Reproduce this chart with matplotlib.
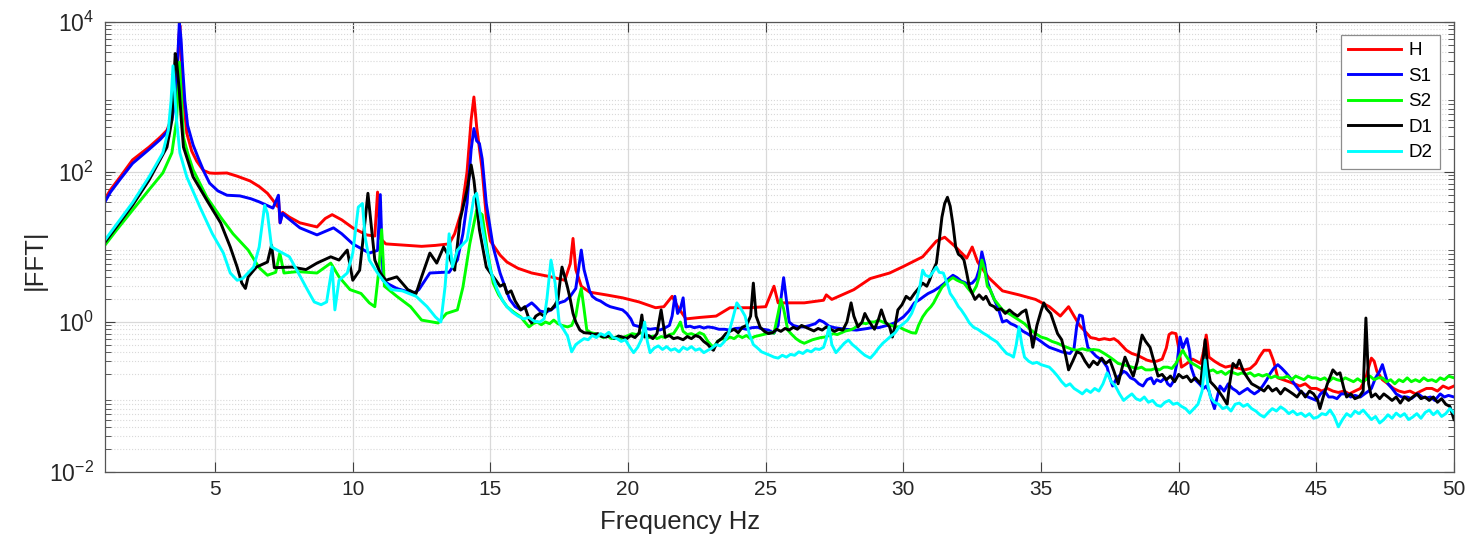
import math
import matplotlib
matplotlib.use("Agg")
import matplotlib.pyplot as plt
from matplotlib.ticker import LogLocator, FixedLocator, NullFormatter, FuncFormatter

plt.rcParams['font.family'] = ['Liberation Sans', 'DejaVu Sans']
plt.rcParams['mathtext.fontset'] = 'custom'
plt.rcParams['mathtext.rm'] = 'Liberation Sans'

# ---------------- data ----------------
h_f = [1.0, 1.2, 1.55, 2.0, 2.6, 3.0, 3.25, 3.43, 3.55, 3.62, 3.68, 3.72, 3.78, 3.86, 3.97, 4.15, 4.33, 4.57, 4.8, 5.0,
       5.43, 5.8, 6.27, 6.6, 6.9, 7.1, 7.25, 7.3, 7.36, 7.45, 7.7, 8.08, 8.7, 9.0, 9.25, 9.6, 10.0, 10.5, 10.8, 10.9,
       11.0, 11.2, 12.0, 12.5, 13.0, 13.5, 13.7, 13.95, 14.15, 14.3, 14.4, 14.5, 14.7, 14.85, 15.0, 15.35, 15.6, 16.0,
       16.5, 17.2, 17.7, 17.9, 18.0, 18.1, 18.3, 18.6, 19.2, 19.8, 20.4, 21.0, 21.3, 21.6, 21.8, 22.1, 22.6, 23.2, 23.7,
       24.4, 25.0, 25.3, 25.45, 26.0, 26.4, 27.1, 27.2, 27.4, 28.2, 28.8, 29.5, 30.0, 30.7, 31.2, 31.5, 31.9, 32.3, 32.5,
       32.7, 33.1, 33.6, 34.2, 34.8, 35.3, 35.7, 36.0, 36.2, 36.4, 36.6, 36.8, 37.0, 37.1, 37.3, 37.5, 37.65, 37.8,
       37.95, 38.1, 38.3, 38.5, 38.7, 38.85, 39.0, 39.2, 39.4, 39.55, 39.65, 39.75, 39.9, 40.0, 40.1, 40.3, 40.5, 40.65,
       40.8, 40.9, 41.0, 41.05, 41.1, 41.3, 41.5, 41.7, 41.9, 42.0, 42.2, 42.4, 42.6, 42.8, 42.95, 43.1, 43.3, 43.45,
       43.6, 43.8, 44.0, 44.2, 44.4, 44.6, 44.8, 45.0, 45.2, 45.4, 45.6, 45.8, 46.0, 46.2, 46.4, 46.6, 46.8, 46.9, 47.0,
       47.1, 47.2, 47.4, 47.6, 47.8, 48.0, 48.2, 48.4, 48.6, 48.8, 49.0, 49.2, 49.4, 49.6, 49.8, 50.0]
h_v = [44, 58, 86, 145, 215, 290, 360, 540, 900, 2000, 6000, 9000, 3000, 900, 330, 190, 140, 105, 97, 96,
       97, 88, 76, 64, 52, 42, 35, 44, 21, 29, 25, 21, 18.5, 24, 27, 23, 18, 14.5, 14, 54,
       13, 11, 10.5, 10.2, 10.5, 11, 15, 30, 100, 500, 1000, 400, 106, 25, 12, 7.8, 6.3, 5.2,
       4.5, 4.0, 3.6, 6, 13, 5, 3.0, 2.5, 2.3, 2.1, 1.85, 1.55, 1.6, 2.2, 1.6, 1.1, 1.15, 1.2, 1.55,
       1.55, 1.6, 3.0, 1.8, 1.8, 1.8, 1.95, 2.3, 2.0, 2.7, 3.8, 4.5, 5.5, 7.4, 12, 13.5, 10, 7.1, 10,
       6.3, 3.9, 2.6, 2.3, 2.0, 1.6, 1.2, 1.6, 1.2, 0.9, 0.75, 0.62, 0.6, 0.58, 0.6, 0.58, 0.6, 0.55,
       0.48, 0.42, 0.38, 0.36, 0.33, 0.31, 0.30, 0.3, 0.32, 0.45, 0.68, 0.72, 0.70, 0.45, 0.25, 0.28, 0.32, 0.3,
       0.28, 0.4, 0.67, 0.5, 0.34, 0.3, 0.27, 0.25, 0.26, 0.25, 0.24, 0.23, 0.24, 0.28, 0.35, 0.42, 0.42, 0.3,
       0.18, 0.17, 0.16, 0.15, 0.14, 0.15, 0.13, 0.13, 0.12, 0.13, 0.12, 0.115, 0.12, 0.11, 0.12, 0.13, 0.18, 0.25, 0.33,
       0.3, 0.22, 0.17, 0.15, 0.13, 0.12, 0.115, 0.12, 0.11, 0.12, 0.13, 0.13, 0.12, 0.14, 0.13, 0.14]

s1_f = [1.0, 1.2, 1.55, 2.0, 2.6, 3.0, 3.25, 3.43, 3.55, 3.63, 3.7, 3.76, 3.82, 3.9, 4.0, 4.2, 4.4, 4.6, 4.8, 5.1,
        5.43, 5.9, 6.3, 6.6, 7.1, 7.3, 7.36, 7.45, 7.6, 8.08, 8.7, 9.3, 9.6, 10.0, 10.6, 10.9, 11.0, 11.1, 11.3, 11.6,
        12.2, 12.4, 12.8, 13.3, 13.5, 13.8, 14.0, 14.15, 14.3, 14.4, 14.5, 14.6, 14.7, 14.85,
        15.1, 15.35, 15.55, 15.7, 15.9, 16.1, 16.3, 16.5, 16.65, 16.8, 17.0, 17.2, 17.35, 17.5, 17.7, 17.9, 18.1, 18.2,
        18.3, 18.4, 18.5, 18.6, 18.7, 18.85, 19.0, 19.2, 19.35, 19.5, 19.65, 19.8, 19.95, 20.1, 20.2, 20.35, 20.5,
        20.65, 20.8, 21.0, 21.15, 21.3, 21.5, 21.6, 21.7, 21.8, 21.9, 22.0, 22.1, 22.25, 22.4, 22.6, 22.75, 22.9,
        23.1, 23.3, 23.5, 23.7, 23.9, 24.1, 24.3, 24.5, 24.7, 24.9, 25.1, 25.3, 25.45, 25.55, 25.65, 25.75, 25.85,
        26.0, 26.2, 26.4, 26.6, 26.8, 26.95, 27.1, 27.3, 27.5, 27.7, 27.9, 28.1, 28.3, 28.5, 28.7, 28.9, 29.1, 29.3,
        29.5, 29.7, 29.9, 30.0, 30.2, 30.4, 30.6, 30.75, 30.9, 31.1, 31.3, 31.5, 31.65, 31.8, 31.95, 32.1, 32.2,
        32.35, 32.5, 32.65, 32.75, 32.85, 32.95, 33.05, 33.15, 33.3, 33.45, 33.6, 33.75, 33.9, 34.05, 34.2, 34.35,
        34.5, 34.7, 34.85, 35.0, 35.15, 35.3, 35.45, 35.6, 35.75, 35.9, 36.05, 36.2, 36.3, 36.4, 36.5, 36.6, 36.7,
        36.85, 37.0, 37.1, 37.25, 37.4, 37.5, 37.6, 37.75, 37.9, 38.0, 38.1, 38.25, 38.4, 38.55, 38.7, 38.85, 39.0,
        39.1, 39.2, 39.35, 39.5, 39.6, 39.7, 39.8, 39.95, 40.05, 40.15, 40.2, 40.3, 40.4, 40.45, 40.6, 40.75, 40.9,
        41.0, 41.1, 41.2, 41.3, 41.4, 41.5, 41.65, 41.8, 41.95, 42.1, 42.2, 42.35, 42.5, 42.6, 42.75, 42.9, 43.05,
        43.2, 43.3, 43.45, 43.6, 43.75, 43.9, 44.05, 44.2, 44.4, 44.55, 44.7, 44.85, 45.0, 45.15, 45.3, 45.45, 45.6,
        45.75, 45.9, 46.1, 46.25, 46.4, 46.6, 46.75, 46.9, 47.0, 47.15, 47.3, 47.4, 47.5, 47.6, 47.75, 47.9, 48.1,
        48.3, 48.45, 48.6, 48.7, 48.85, 49.0, 49.15, 49.3, 49.5, 49.65, 49.8, 50.0]
s1_v = [40, 54, 80, 130, 200, 270, 340, 500, 900, 2500, 10000, 6000, 2500, 900, 420, 230, 150, 100, 71, 56,
        49, 48, 44, 40, 33, 49, 21, 28, 25, 18, 14.5, 18, 15, 11, 8.3, 9, 50, 3.6, 3.2, 2.8,
        2.4, 2.7, 4.5, 4.6, 4.6, 6.7, 15, 38, 200, 380, 260, 240, 150, 38,
        10, 4.5, 2.8, 2.0, 1.6, 1.45, 1.6, 1.8, 1.6, 1.4, 1.35, 1.45, 1.6, 1.8, 1.9, 2.2, 2.8, 5,
        9.1, 5, 3.6, 2.6, 2.2, 2.0, 1.9, 1.7, 1.6, 1.55, 1.5, 1.45, 1.3, 1.1, 0.91, 0.88, 0.85,
        0.82, 0.8, 0.82, 0.78, 0.82, 0.9, 1.2, 2.2, 1.3, 1.5, 2.1, 0.86, 0.88, 0.84, 0.87, 0.83, 0.86,
        0.84, 0.8, 0.8, 0.78, 0.82, 0.83, 0.8, 0.84, 0.85, 0.8, 0.78, 0.71, 0.9, 2.0, 3.9, 2.0, 1.0,
        0.9, 0.86, 0.86, 0.9, 0.95, 1.06, 1.0, 0.88, 0.84, 0.82, 0.8, 0.79, 0.78, 0.8, 0.82, 0.85, 0.84, 0.88,
        0.92, 0.98, 1.1, 1.17, 1.4, 1.8, 2.0, 2.2, 2.4, 2.6, 2.9, 3.3, 3.8, 4.2, 3.9, 3.5, 3.4,
        3.2, 3.3, 3.8, 5, 8.6, 6, 3.5, 2.7, 2.0, 1.5, 1.0, 1.05, 0.95, 0.9, 0.83, 0.75,
        0.7, 0.63, 0.6, 0.55, 0.5, 0.46, 0.44, 0.42, 0.4, 0.39, 0.38, 0.45, 0.9, 1.24, 1.2, 0.7, 0.46,
        0.4, 0.35, 0.33, 0.3, 0.25, 0.18, 0.14, 0.18, 0.2, 0.22, 0.21, 0.18, 0.17, 0.15, 0.14, 0.17, 0.18,
        0.15, 0.17, 0.16, 0.18, 0.15, 0.14, 0.16, 0.3, 0.63, 0.45, 0.5, 0.6, 0.4, 0.25, 0.17, 0.15, 0.13,
        0.14, 0.12, 0.09, 0.07, 0.1, 0.14, 0.12, 0.15, 0.13, 0.12, 0.11, 0.12, 0.13, 0.12, 0.11, 0.12, 0.14,
        0.17, 0.2, 0.24, 0.27, 0.24, 0.21, 0.18, 0.15, 0.12, 0.11, 0.1, 0.095, 0.09, 0.11, 0.12, 0.1, 0.1,
        0.095, 0.11, 0.11, 0.1, 0.105, 0.1, 0.11, 0.12, 0.13, 0.18, 0.22, 0.27, 0.2, 0.15, 0.13, 0.11, 0.1,
        0.1, 0.095, 0.105, 0.11, 0.1, 0.097, 0.1, 0.09, 0.11, 0.1, 0.105, 0.1]

s2_f = [1.0, 1.43, 2.0, 2.6, 3.1, 3.43, 3.6, 3.7, 3.78, 3.85, 4.0, 4.2, 4.7, 5.2, 5.65, 6.2, 6.6, 6.9, 7.2, 7.35,
        7.5, 8.0, 8.7, 9.2, 9.5, 9.9, 10.3, 10.6, 10.8, 10.95, 11.05, 11.15, 11.6, 12.1, 12.5, 13.1, 13.4, 13.8, 14.0,
        14.25, 14.5, 14.7, 14.9,
        15.1, 15.3, 15.6, 15.85, 16.1, 16.25, 16.4, 16.55, 16.7, 16.85, 17.0, 17.15, 17.3, 17.45, 17.6, 17.8, 17.95,
        18.1, 18.2, 18.3, 18.4, 18.5, 18.65, 18.8, 18.95, 19.1, 19.25, 19.4, 19.55, 19.7, 19.85, 20.0, 20.15, 20.3,
        20.45, 20.6, 20.75, 20.9, 21.05, 21.2, 21.35, 21.5, 21.65, 21.8, 21.9, 22.0, 22.15, 22.3, 22.45, 22.6, 22.75,
        22.9, 23.0, 23.1, 23.25, 23.4, 23.55, 23.7, 23.85, 24.0, 24.15, 24.3, 24.45, 24.6, 24.75, 24.9, 25.05, 25.2,
        25.3, 25.45, 25.55, 25.65, 25.8, 25.95, 26.1, 26.25, 26.4, 26.55, 26.7, 26.85, 27.0, 27.15, 27.3, 27.45,
        27.6, 27.75, 27.9, 28.05, 28.2, 28.35, 28.5, 28.65, 28.8, 28.95, 29.1, 29.25, 29.4, 29.55, 29.7, 29.85, 30.0,
        30.15, 30.3, 30.45, 30.55, 30.7, 30.85, 31.0, 31.1, 31.25, 31.4, 31.55, 31.7, 31.8, 31.95, 32.1, 32.2, 32.35,
        32.5, 32.65, 32.75, 32.85, 32.95, 33.05, 33.15, 33.3, 33.45, 33.6, 33.75, 33.9, 34.05, 34.2, 34.4, 34.6,
        34.8, 35.0, 35.2, 35.4, 35.6, 35.8, 36.0, 36.15, 36.3, 36.5, 36.7, 36.9, 37.1, 37.3, 37.5, 37.65, 37.8, 38.0,
        38.15, 38.3, 38.5, 38.65, 38.8, 39.0, 39.15, 39.3, 39.45, 39.6, 39.75, 39.9, 40.05, 40.15, 40.25, 40.4, 40.5,
        40.65, 40.8, 40.95, 41.1, 41.25, 41.4, 41.55, 41.7, 41.85, 42.0, 42.15, 42.3, 42.45, 42.6, 42.75, 42.9, 43.05,
        43.2, 43.35, 43.5, 43.65, 43.8, 43.95, 44.1, 44.25, 44.4, 44.55, 44.7, 44.85, 45.0, 45.15, 45.3, 45.45, 45.6,
        45.75, 45.9, 46.05, 46.2, 46.35, 46.5, 46.65, 46.8, 46.95, 47.1, 47.25, 47.4, 47.55, 47.7, 47.85, 48.0, 48.15,
        48.3, 48.45, 48.6, 48.75, 48.9, 49.05, 49.2, 49.35, 49.5, 49.65, 49.8, 50.0]
s2_v = [10.6, 17, 31, 58, 97, 180, 490, 2900, 900, 290, 180, 107, 46, 25, 15, 9.1, 5.3, 4.2, 4.6, 8.3,
        4.5, 4.7, 4.5, 6.1, 4.0, 2.7, 2.4, 1.8, 1.6, 5, 17, 3, 2.2, 1.6, 1.06, 0.97, 1.3, 1.45, 2.9,
        11, 31, 27, 8.3,
        3.3, 2.3, 1.6, 1.35, 1.17, 1.0, 0.86, 0.95, 1.0, 0.92, 1.0, 0.95, 1.06, 0.95, 0.9, 0.86, 0.9,
        1.2, 2.0, 2.8, 1.5, 0.78, 0.72, 0.7, 0.66, 0.62, 0.65, 0.6, 0.63, 0.58, 0.63, 0.66, 0.7, 0.68,
        0.72, 0.66, 0.62, 0.65, 0.6, 0.64, 0.62, 0.68, 0.7, 0.85, 1.0, 0.75, 0.68, 0.7, 0.66, 0.72, 0.68,
        0.55, 0.5, 0.46, 0.55, 0.6, 0.58, 0.63, 0.6, 0.66, 0.62, 0.66, 0.6, 0.64, 0.66, 0.68, 0.7, 0.72,
        0.71, 1.3, 2.0, 1.5, 0.78, 0.68, 0.6, 0.55, 0.52, 0.55, 0.58, 0.6, 0.62, 0.63, 0.66, 0.7,
        0.68, 0.72, 0.76, 0.78, 0.82, 0.9, 0.97, 0.95, 1.0, 1.0, 1.06, 1.0, 0.95, 0.9, 0.86, 0.86, 0.8,
        0.76, 0.72, 0.71, 0.9, 1.17, 1.4, 1.6, 1.8, 2.3, 2.9, 3.3, 3.7, 3.9, 3.6, 3.4, 3.3, 2.8,
        2.4, 3.0, 4, 6.7, 5, 3.0, 2.7, 2.0, 1.7, 1.45, 1.35, 1.25, 1.15, 1.06, 0.95, 0.8,
        0.7, 0.63, 0.6, 0.55, 0.52, 0.48, 0.45, 0.43, 0.42, 0.44, 0.42, 0.43, 0.42, 0.38, 0.34, 0.31, 0.28, 0.27,
        0.26, 0.25, 0.24, 0.25, 0.23, 0.23, 0.24, 0.23, 0.25, 0.25, 0.24, 0.28, 0.36, 0.42, 0.36, 0.3, 0.28,
        0.26, 0.24, 0.23, 0.22, 0.23, 0.21, 0.22, 0.2, 0.22, 0.21, 0.2, 0.21, 0.2, 0.21, 0.19, 0.2, 0.19,
        0.2, 0.18, 0.19, 0.18, 0.18, 0.19, 0.17, 0.19, 0.18, 0.17, 0.19, 0.18, 0.18, 0.17, 0.18, 0.16, 0.18,
        0.17, 0.165, 0.18, 0.17, 0.16, 0.175, 0.16, 0.17, 0.19, 0.17, 0.18, 0.18, 0.16, 0.17, 0.15, 0.17, 0.16,
        0.18, 0.16, 0.17, 0.16, 0.18, 0.165, 0.17, 0.16, 0.18, 0.17, 0.19, 0.18]

d1_f = [1.0, 2.0, 2.6, 3.25, 3.43, 3.5, 3.55, 3.6, 3.7, 3.78, 3.85, 4.2, 4.7, 5.2, 5.55, 5.8, 5.97, 6.1, 6.2, 6.5,
        6.9, 7.05, 7.15, 7.8, 8.3, 8.7, 9.2, 9.5, 9.8, 10.0, 10.25, 10.45, 10.55, 10.65, 10.8, 11.0, 11.2, 11.6, 12.0,
        12.3, 12.5, 12.8, 13.05, 13.3, 13.5, 13.7, 13.9, 14.15, 14.3, 14.4, 14.6, 14.85,
        15.0, 15.2, 15.35, 15.5, 15.6, 15.75, 15.9, 16.1, 16.25, 16.4, 16.5, 16.65, 16.8, 16.95, 17.1, 17.2, 17.35,
        17.45, 17.55, 17.6, 17.7, 17.8, 17.9, 18.0, 18.1, 18.25, 18.4, 18.6, 18.75, 18.9, 19.05, 19.2, 19.35, 19.5,
        19.65, 19.8, 19.95, 20.1, 20.25, 20.4, 20.5, 20.6, 20.75, 20.9, 21.05, 21.2, 21.35, 21.5, 21.65, 21.8, 22.0,
        22.15, 22.3, 22.45, 22.6, 22.75, 22.9, 23.0, 23.1, 23.25, 23.4, 23.55, 23.7, 23.85, 24.0, 24.15, 24.3, 24.45,
        24.55, 24.65, 24.8, 24.95, 25.1, 25.25, 25.4, 25.55, 25.7, 25.85, 26.0, 26.15, 26.3, 26.45, 26.6, 26.75, 26.9,
        27.05, 27.2, 27.35, 27.5, 27.65, 27.8, 27.95, 28.1, 28.2, 28.35, 28.5, 28.6, 28.7, 28.85, 28.95, 29.1, 29.2,
        29.35, 29.5, 29.6, 29.7, 29.8, 29.95, 30.1, 30.25, 30.4, 30.55, 30.7, 30.85, 30.95, 31.05, 31.2, 31.3, 31.4,
        31.5, 31.6, 31.7, 31.8, 31.9, 32.0, 32.1, 32.2, 32.3, 32.4, 32.5, 32.6, 32.75, 32.9, 33.0, 33.15, 33.3, 33.4,
        33.55, 33.7, 33.85, 34.0, 34.15, 34.3, 34.45, 34.6, 34.7, 34.85, 35.0, 35.1, 35.2, 35.35, 35.5, 35.6, 35.75,
        35.9, 36.0, 36.15, 36.3, 36.45, 36.6, 36.75, 36.9, 37.05, 37.2, 37.35, 37.5, 37.65, 37.8, 37.95, 38.05, 38.2,
        38.35, 38.5, 38.6, 38.67, 38.8, 38.96, 39.1, 39.25, 39.4, 39.55, 39.7, 39.85, 40.0, 40.15, 40.3, 40.45, 40.6,
        40.8, 40.96, 41.05, 41.15, 41.3, 41.45, 41.6, 41.76, 41.85, 41.97, 42.1, 42.2, 42.35, 42.5, 42.65, 42.8,
        42.95, 43.1, 43.25, 43.4, 43.55, 43.7, 43.85, 44.0, 44.15, 44.3, 44.45, 44.6, 44.75, 44.9, 45.05, 45.13,
        45.25, 45.4, 45.6, 45.75, 45.86, 46.0, 46.1, 46.25, 46.4, 46.55, 46.7, 46.8, 46.9, 47.0, 47.15, 47.3, 47.45,
        47.6, 47.75, 47.9, 48.05, 48.2, 48.35, 48.5, 48.65, 48.8, 48.95, 49.1, 49.25, 49.4, 49.55, 49.7, 49.85, 50.0]
d1_v = [11.6, 36, 78, 215, 490, 1500, 3800, 3000, 1200, 450, 215, 86, 42, 21, 10, 5.4, 3.3, 2.8, 4, 5.4,
        6.3, 10.6, 5.3, 5.4, 5.0, 6.1, 7.4, 6.7, 9.1, 3.6, 4.9, 23, 52, 23, 6.7, 4.5, 3.6, 4.0, 2.7,
        2.4, 4.0, 8.3, 6.1, 10, 7.4, 4.9, 23, 58, 124, 78, 17, 5.4,
        4.5, 3.6, 3.0, 3.2, 2.4, 2.6, 1.9, 1.45, 1.6, 1.1, 0.97, 1.2, 1.3, 1.2, 1.5, 1.45, 1.7,
        2.0, 4.0, 5.4, 4.0, 2.9, 2.0, 1.3, 1.0, 0.78, 0.72, 0.71, 0.68, 0.7, 0.64, 0.63, 0.66, 0.6,
        0.65, 0.63, 0.6, 0.66, 0.62, 0.71, 1.24, 0.63, 0.66, 0.6, 0.7, 1.45, 0.63, 0.66, 0.6, 0.62, 0.58,
        0.64, 0.6, 0.66, 0.63, 0.55, 0.5, 0.45, 0.42, 0.55, 0.6, 0.7, 0.75, 0.8, 0.72, 0.85, 0.9, 1.2,
        3.3, 1.2, 0.85, 0.75, 0.7, 0.72, 0.8, 0.75, 0.82, 0.78, 0.85, 0.8, 0.9, 0.85, 0.8, 0.76, 0.82,
        0.78, 0.86, 0.8, 0.75, 0.8, 0.78, 1.0, 1.8, 1.2, 0.86, 1.0, 1.3, 1.1, 0.9, 0.8, 1.1, 1.45,
        1.0, 0.86, 0.63, 0.9, 1.45, 1.7, 2.2, 2.0, 2.4, 2.8, 3.3, 3.0, 3.6, 4.6, 6.1, 12, 25,
        38, 46, 35, 20, 10, 8.0, 7.5, 6.7, 4.5, 2.9, 2.4, 2.0, 2.3, 2.0, 2.2, 1.7, 1.6, 1.45,
        1.5, 1.3, 1.45, 1.3, 1.2, 1.35, 1.45, 0.8, 0.46, 0.9, 1.4, 1.8, 1.5, 1.3, 0.9, 0.7, 0.58,
        0.35, 0.23, 0.3, 0.4, 0.38, 0.3, 0.25, 0.3, 0.27, 0.33, 0.28, 0.31, 0.22, 0.15, 0.25, 0.34, 0.25,
        0.19, 0.3, 0.5, 0.67, 0.55, 0.46, 0.3, 0.19, 0.2, 0.17, 0.19, 0.16, 0.2, 0.18, 0.19, 0.16, 0.18,
        0.15, 0.58, 0.25, 0.16, 0.14, 0.12, 0.1, 0.08, 0.15, 0.28, 0.25, 0.31, 0.22, 0.18, 0.15, 0.14,
        0.13, 0.12, 0.14, 0.12, 0.13, 0.11, 0.13, 0.12, 0.11, 0.1, 0.12, 0.1, 0.12, 0.11, 0.09, 0.07,
        0.1, 0.15, 0.23, 0.2, 0.21, 0.13, 0.1, 0.11, 0.095, 0.1, 0.12, 1.13, 0.15, 0.1, 0.11, 0.095, 0.11,
        0.1, 0.09, 0.1, 0.083, 0.1, 0.09, 0.1, 0.11, 0.095, 0.1, 0.09, 0.1, 0.085, 0.095, 0.08, 0.075, 0.05]

d2_f = [1.0, 2.0, 2.6, 3.1, 3.3, 3.4, 3.47, 3.55, 3.6, 3.72, 3.97, 4.45, 4.9, 5.3, 5.55, 5.8, 6.0, 6.4, 6.6, 6.8,
        6.9, 7.05, 7.45, 7.7, 8.1, 8.35, 8.6, 8.85, 9.05, 9.25, 9.35, 9.5, 9.8, 10.0, 10.2, 10.35, 10.45, 10.6, 10.9,
        11.1, 11.4, 11.8, 12.3, 12.7, 13.0, 13.2, 13.35, 13.5, 13.62, 13.8, 14.15, 14.4, 14.5, 14.7,
        15.0, 15.25, 15.45, 15.6, 15.8, 16.0, 16.2, 16.4, 16.6, 16.8, 16.95, 17.05, 17.2, 17.35, 17.5, 17.65, 17.8,
        17.95, 18.1, 18.25, 18.4, 18.55, 18.7, 18.85, 19.0, 19.15, 19.3, 19.45, 19.6, 19.75, 19.9, 20.05, 20.2, 20.35,
        20.5, 20.6, 20.7, 20.8, 20.95, 21.1, 21.25, 21.4, 21.55, 21.7, 21.85, 22.0, 22.15, 22.3, 22.45, 22.6, 22.75,
        22.9, 23.05, 23.2, 23.35, 23.5, 23.65, 23.8, 23.95, 24.1, 24.25, 24.4, 24.55, 24.7, 24.85, 25.0, 25.15, 25.3,
        25.45, 25.6, 25.75, 25.9, 26.05, 26.2, 26.35, 26.5, 26.65, 26.8, 26.95, 27.1, 27.2, 27.3, 27.4, 27.55, 27.7,
        27.85, 28.0, 28.15, 28.3, 28.45, 28.6, 28.8, 28.95, 29.1, 29.25, 29.4, 29.55, 29.7, 29.85, 30.0, 30.15, 30.3,
        30.45, 30.6, 30.7, 30.8, 30.95, 31.1, 31.2, 31.3, 31.45, 31.6, 31.7, 31.85, 32.0, 32.1, 32.25, 32.4, 32.55,
        32.7, 32.9, 33.05, 33.2, 33.4, 33.55, 33.75, 33.9, 34.0, 34.1, 34.2, 34.3, 34.4, 34.55, 34.7, 34.85, 35.0,
        35.15, 35.3, 35.45, 35.6, 35.75, 35.9, 36.05, 36.2, 36.35, 36.5, 36.65, 36.8, 36.95, 37.1, 37.25, 37.4,
        37.55, 37.7, 37.85, 38.0, 38.15, 38.3, 38.45, 38.6, 38.75, 38.9, 39.05, 39.2, 39.35, 39.5, 39.65, 39.8, 39.95,
        40.1, 40.25, 40.4, 40.55, 40.7, 40.85, 40.96, 41.05, 41.15, 41.3, 41.45, 41.6, 41.75, 41.9, 42.05, 42.2,
        42.35, 42.5, 42.65, 42.8, 42.95, 43.1, 43.25, 43.4, 43.55, 43.7, 43.85, 44.0, 44.15, 44.3, 44.45, 44.6,
        44.75, 44.9, 45.05, 45.2, 45.35, 45.5, 45.65, 45.8, 45.95, 46.1, 46.25, 46.4, 46.55, 46.7, 46.85, 47.0,
        47.15, 47.3, 47.45, 47.6, 47.75, 47.9, 48.05, 48.2, 48.35, 48.5, 48.65, 48.8, 48.95, 49.1, 49.25, 49.4,
        49.55, 49.7, 49.85, 50.0]
d2_v = [12.4, 39, 86, 180, 360, 900, 2600, 900, 490, 180, 86, 34, 15, 8.3, 4.5, 3.6, 3.8, 5.4, 10, 36,
        28, 10, 8.3, 7.4, 4.0, 2.7, 1.85, 1.7, 1.85, 5.4, 1.45, 3.6, 4.5, 8.3, 34, 38, 13.5, 6.7, 4.5,
        3.6, 2.7, 2.6, 2.2, 1.6, 1.17, 1.0, 2.9, 15, 5.4, 9.1, 12.4, 46, 52, 18.5,
        4.9, 2.7, 1.9, 1.6, 1.35, 1.2, 1.1, 1.15, 1.02, 1.0, 1.1, 2.0, 6.7, 3.3, 0.97, 0.8, 0.65,
        0.4, 0.5, 0.55, 0.6, 0.58, 0.66, 0.62, 0.7, 0.66, 0.73, 0.62, 0.6, 0.55, 0.58, 0.47, 0.39, 0.46,
        0.6, 1.0, 0.55, 0.39, 0.45, 0.48, 0.43, 0.47, 0.42, 0.44, 0.4, 0.46, 0.43, 0.47, 0.42, 0.44, 0.39,
        0.42, 0.45, 0.5, 0.48, 0.55, 0.7, 1.1, 1.8, 1.5, 1.2, 0.7, 0.5, 0.45, 0.4, 0.38, 0.36, 0.34,
        0.33, 0.36, 0.34, 0.37, 0.36, 0.4, 0.38, 0.42, 0.4, 0.44, 0.43, 0.46, 0.6, 0.86, 0.5, 0.39, 0.45,
        0.52, 0.575, 0.5, 0.45, 0.4, 0.36, 0.33, 0.38, 0.45, 0.52, 0.58, 0.65, 0.72, 0.86, 0.95, 1.06, 1.3,
        1.8, 3.0, 4.9, 4.2, 4.0, 4.8, 5.4, 4.6, 4.5, 3.2, 2.4, 2.0, 1.6, 1.45, 1.2, 0.97, 0.85,
        0.8, 0.71, 0.66, 0.6, 0.54, 0.46, 0.38, 0.36, 0.34, 0.5, 0.86, 0.5, 0.34, 0.3, 0.28, 0.29, 0.27,
        0.26, 0.25, 0.22, 0.19, 0.16, 0.14, 0.15, 0.13, 0.12, 0.11, 0.125, 0.115, 0.13, 0.12, 0.15, 0.21,
        0.16, 0.14, 0.11, 0.09, 0.1, 0.11, 0.095, 0.09, 0.1, 0.085, 0.09, 0.078, 0.075, 0.085, 0.09, 0.08, 0.083,
        0.075, 0.07, 0.061, 0.07, 0.08, 0.12, 0.31, 0.15, 0.1, 0.085, 0.08, 0.07, 0.074, 0.065, 0.08, 0.083,
        0.075, 0.08, 0.07, 0.065, 0.058, 0.054, 0.062, 0.07, 0.065, 0.074, 0.068, 0.06, 0.065, 0.058, 0.061, 0.055,
        0.06, 0.052, 0.054, 0.06, 0.058, 0.067, 0.055, 0.04, 0.05, 0.06, 0.055, 0.065, 0.06, 0.067, 0.058, 0.05,
        0.055, 0.045, 0.05, 0.058, 0.052, 0.061, 0.055, 0.06, 0.05, 0.054, 0.06, 0.052, 0.062, 0.067, 0.058, 0.065,
        0.055, 0.06, 0.07, 0.061]

series_names = ['H', 'S1', 'S2', 'D1', 'D2']
series_f = [h_f, s1_f, s2_f, d1_f, d2_f]
series_v = [h_v, s1_v, s2_v, d1_v, d2_v]
series_colors = ['#ff0000', '#0000ff', '#00ff00', '#000000', '#00ffff']

x_ticks = [5, 10, 15, 20, 25, 30, 35, 40, 45, 50]
y_ticks = [1e-2, 1e0, 1e2, 1e4]

# ---------------- figure ----------------
fig = plt.figure(figsize=(14.74, 5.42), dpi=100)
ax = fig.add_axes([105 / 1474, 1 - 472 / 542, 1349 / 1474, 450 / 542])

for name, f, v, c in zip(series_names, series_f, series_v, series_colors):
    ax.plot(f, v, color=c, lw=2.1, label=name, solid_joinstyle='round')

ax.set_yscale('log')
ax.set_xlim(1, 50)
ax.set_ylim(1e-2, 1e4)
ax.xaxis.set_major_locator(FixedLocator(x_ticks))
ax.yaxis.set_major_locator(FixedLocator(y_ticks))
ax.yaxis.set_minor_locator(LogLocator(base=10, subs=range(2, 10), numticks=20))
ax.yaxis.set_minor_formatter(NullFormatter())
ax.yaxis.set_major_formatter(FuncFormatter(lambda y, p: r'$\mathregular{10^{%d}}$' % round(math.log10(y))))

ax.grid(True, which='major', axis='both', color='#d9d9d9', lw=0.9, ls='-')
ax.grid(True, which='minor', axis='y', color='#d9d9d9', lw=0.8, ls=':')
ax.set_axisbelow(True)

ax.tick_params(which='both', direction='in', top=True, right=True, colors='#404040',
               labelcolor='#262626')
ax.tick_params(axis='x', which='major', labelsize=15, length=7, pad=6)
ax.tick_params(axis='y', which='major', labelsize=16.5, length=7, pad=8)
ax.tick_params(which='minor', length=4)
for s in ax.spines.values():
    s.set_color('#555555')
    s.set_linewidth(0.9)

ax.set_xlabel('Frequency Hz', fontsize=18.5, color='#262626')
ax.xaxis.set_label_coords(0.426, -0.085)
ax.set_ylabel('|FFT|', fontsize=18.5, color='#262626')
ax.yaxis.set_label_coords(-0.043, 0.471)

leg = ax.legend(loc='upper right', bbox_to_anchor=(0.9895, 0.972), fontsize=13.5, handlelength=2.8,
                handletextpad=0.4, labelspacing=0.45, borderpad=0.4, fancybox=False, framealpha=1,
                edgecolor='#8c8c8c', borderaxespad=0)
leg.get_frame().set_linewidth(0.9)

fig.savefig('out.png', dpi=100)
